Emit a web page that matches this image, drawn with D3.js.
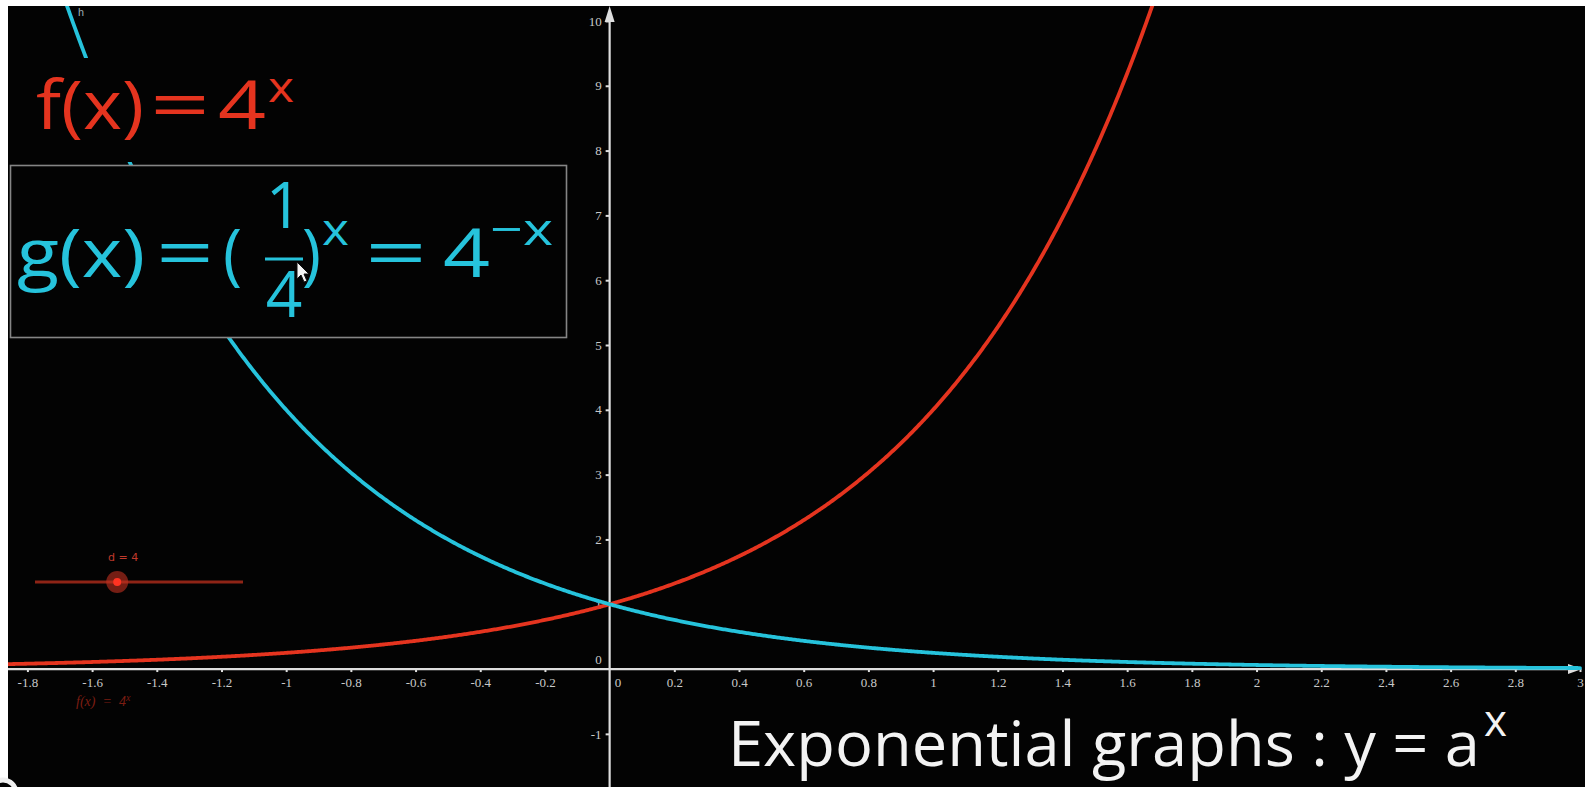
<!DOCTYPE html>
<html>
<head>
<meta charset="utf-8">
<script src="https://cdn.jsdelivr.net/npm/d3@7"></script>
<style>
  html, body { margin: 0; padding: 0; background: #fff; overflow: hidden; }
  svg { display: block; }
</style>
</head>
<body>
<svg id="chart" width="1585" height="787"></svg>
<script>
// Slider value d and the two exponential functions built from it
const sliderValue = 4;
const functionNames = ["f", "g"];
const functionBases = [sliderValue, 1 / sliderValue];   // f(x) = 4^x, g(x) = (1/4)^x

// Axis ticks
const xTickValues = [-1.8, -1.6, -1.4, -1.2, -1, -0.8, -0.6, -0.4, -0.2, 0.2, 0.4, 0.6, 0.8, 1, 1.2, 1.4, 1.6, 1.8, 2, 2.2, 2.4, 2.6, 2.8, 3];
const xTickLabels = ["-1.8", "-1.6", "-1.4", "-1.2", "-1", "-0.8", "-0.6", "-0.4", "-0.2", "0.2", "0.4", "0.6", "0.8", "1", "1.2", "1.4", "1.6", "1.8", "2", "2.2", "2.4", "2.6", "2.8", "3"];
const yTickValues = [-1, 1, 2, 3, 4, 5, 6, 7, 8, 9, 10];
const yTickLabels = ["-1", "1", "2", "3", "4", "5", "6", "7", "8", "9", "10"];

// Visible window of the graphing view
const xDomain = [-1.86, 3.0];
const yDomain = [-1.82, 10.2];
const sliderRange = [0, 10];

const W = 1585, H = 787;
const viewLeft = 8, viewTop = 6;
const RED = "#e5341f", CYAN = "#26c3dc";
const curveColors = { f: RED, g: CYAN };

const svg = d3.select("#chart");
svg.append("rect").attr("width", W).attr("height", H).attr("fill", "#ffffff");
svg.append("rect").attr("x", viewLeft).attr("y", viewTop)
  .attr("width", W - viewLeft).attr("height", H - viewTop).attr("fill", "#030303");

const x = d3.scaleLinear().domain(xDomain).range([viewLeft, 1580]);
const y = d3.scaleLinear().domain(yDomain).range([H, 8]);

svg.append("defs").append("clipPath").attr("id", "view")
  .append("rect").attr("x", viewLeft).attr("y", viewTop)
  .attr("width", W - viewLeft).attr("height", H - viewTop);

// ---- Axes ----
const axisColor = "#dedede";
const tickFont = "'Liberation Serif', 'DejaVu Serif', serif";

const xAxis = svg.append("g").attr("transform", `translate(0,${y(0)})`)
  .call(d3.axisBottom(x).tickValues(xTickValues)
    .tickFormat((d, i) => xTickLabels[i]).tickSize(3).tickPadding(6).tickSizeOuter(0));
xAxis.select(".domain").remove();
xAxis.selectAll(".tick line").attr("stroke", axisColor).attr("stroke-width", 2);
xAxis.selectAll(".tick text").attr("fill", "#c9c9c9")
  .attr("font-family", tickFont).attr("font-size", 13);

const yAxis = svg.append("g").attr("transform", `translate(${x(0)},0)`)
  .call(d3.axisLeft(y).tickValues(yTickValues)
    .tickFormat((d, i) => yTickLabels[i]).tickSize(4).tickPadding(4).tickSizeOuter(0));
yAxis.select(".domain").remove();
yAxis.selectAll(".tick line").attr("stroke", axisColor).attr("stroke-width", 2);
yAxis.selectAll(".tick text").attr("fill", "#c9c9c9")
  .attr("font-family", tickFont).attr("font-size", 13);

// zero labels on both axes
svg.append("text").attr("x", x(0) + 5).attr("y", y(0) + 18)
  .attr("font-family", tickFont).attr("font-size", 13).attr("fill", "#c9c9c9").text("0");
svg.append("text").attr("x", x(0) - 8).attr("y", y(0) - 5).attr("text-anchor", "end")
  .attr("font-family", tickFont).attr("font-size", 13).attr("fill", "#c9c9c9").text("0");

// axis lines with arrowheads
svg.append("line").attr("x1", viewLeft).attr("x2", x(xDomain[1]) - 8)
  .attr("y1", y(0)).attr("y2", y(0)).attr("stroke", axisColor).attr("stroke-width", 2.2);
svg.append("path")
  .attr("d", `M${x(xDomain[1]) + 2},${y(0)} L${x(xDomain[1]) - 12},${y(0) - 5} L${x(xDomain[1]) - 12},${y(0) + 5} Z`)
  .attr("fill", axisColor);
svg.append("line").attr("x1", x(0)).attr("x2", x(0))
  .attr("y1", H).attr("y2", viewTop + 10).attr("stroke", axisColor).attr("stroke-width", 2.2);
svg.append("path")
  .attr("d", `M${x(0)},${viewTop} L${x(0) - 5},${viewTop + 16} L${x(0) + 5},${viewTop + 16} Z`)
  .attr("fill", axisColor);

// ---- Curves ----
const samples = d3.range(xDomain[0], xDomain[1] + 1e-9, 0.004);
const line = d3.line().x(d => x(d[0])).y(d => y(d[1]));
const curves = svg.append("g").attr("clip-path", "url(#view)");
[0, 1].forEach(i => {
  const pts = samples.map(t => [t, Math.pow(functionBases[i], t)]).filter(p => p[1] < 40);
  curves.append("path").datum(pts)
    .attr("d", line).attr("fill", "none")
    .attr("stroke", curveColors[functionNames[i]])
    .attr("stroke-width", 3.8).attr("stroke-linejoin", "round").attr("stroke-linecap", "round");
});

// label of the cyan curve near the top edge
svg.append("text").attr("x", 78).attr("y", 16).attr("font-family", "Roboto, sans-serif")
  .attr("font-size", 11).attr("fill", "#9aa7ad").text("h");

// ---- Formula texts ----
const mathFont = "'Open Sans', 'Noto Sans', sans-serif";
function fitText(str, x0, x1, baseline, size, color) {
  return svg.append("text").attr("x", x0).attr("y", baseline)
    .attr("font-family", mathFont).attr("font-size", size).attr("fill", color)
    .attr("textLength", x1 - x0).attr("lengthAdjust", "spacingAndGlyphs").text(str);
}
function centerText(str, cx, baseline, size, color) {
  return svg.append("text").attr("x", cx).attr("y", baseline).attr("text-anchor", "middle")
    .attr("font-family", mathFont).attr("font-size", size).attr("fill", color).text(str);
}

// f(x) = 4^x (on its own dark backdrop)
svg.append("rect").attr("x", 28).attr("y", 58).attr("width", 272).attr("height", 104).attr("fill", "#030303");
fitText("f(x)", 36, 144, 129, 68, RED);
fitText("=", 150, 210, 129, 68, RED);
fitText(String(sliderValue), 218, 266, 129, 68, RED);
fitText("x", 268, 294, 102, 42, RED);

// g(x) = (1/4)^x = 4^-x inside a framed box
svg.append("rect").attr("x", 10.5).attr("y", 165.5).attr("width", 556).attr("height", 172)
  .attr("fill", "#030303").attr("stroke", "#858585").attr("stroke-width", 1.6);
fitText("g(x)", 17, 145, 277, 68, CYAN);
fitText("=", 156, 214, 277, 68, CYAN);
fitText("(", 223, 242, 277, 68, CYAN);
centerText("1", 284, 228, 64, CYAN);
svg.append("line").attr("x1", 265).attr("x2", 303).attr("y1", 259).attr("y2", 259)
  .attr("stroke", CYAN).attr("stroke-width", 3);
centerText(String(sliderValue), 284, 317, 64, CYAN);
fitText(")", 302, 321, 277, 68, CYAN);
fitText("x", 322, 349, 245, 44, CYAN);
fitText("=", 365, 427, 277, 68, CYAN);
fitText(String(sliderValue), 443, 490, 277, 68, CYAN);
fitText("\u2212x", 490, 553, 245, 44, CYAN);

// mouse pointer resting on the fraction
svg.append("path")
  .attr("d", "M0,0 L0,17 L4,13 L7,20 L10,19 L7,12 L12,12 Z")
  .attr("transform", "translate(297,262)")
  .attr("fill", "#f4f4f4").attr("stroke", "#111").attr("stroke-width", 1);

// ---- Slider d ----
const sliderScale = d3.scaleLinear().domain(sliderRange).range([35, 243]);
svg.append("line").attr("x1", sliderScale.range()[0]).attr("x2", sliderScale.range()[1])
  .attr("y1", 582).attr("y2", 582).attr("stroke", "#8e2416").attr("stroke-width", 3.2);
const knobX = sliderScale(sliderValue) - 1;
svg.append("circle").attr("cx", knobX).attr("cy", 582).attr("r", 11)
  .attr("fill", "#c2301f").attr("fill-opacity", 0.6);
svg.append("circle").attr("cx", knobX).attr("cy", 582).attr("r", 4).attr("fill", "#ff3322");
svg.append("text").attr("x", knobX + 6).attr("y", 561).attr("text-anchor", "middle")
  .attr("font-family", "'DejaVu Sans', sans-serif").attr("font-size", 11)
  .attr("fill", "#c0392b").text(`d = ${sliderValue}`);

// algebra label of f below the x axis
const fLabel = svg.append("text").attr("x", 76).attr("y", 706)
  .attr("font-family", tickFont).attr("font-style", "italic").attr("font-size", 14)
  .attr("fill", "#7c1d12").attr("xml:space", "preserve");
fLabel.append("tspan").text(`f(x)  =  ${sliderValue}`);
fLabel.append("tspan").attr("dy", -5).attr("font-size", 10).text("x");

// ---- Title ----
fitText("Exponential graphs : y = a", 728, 1480, 766, 62, "#f3f3f3");
fitText("x", 1484, 1507, 736, 44, "#f3f3f3");

// corner mark at the bottom-left of the view
svg.append("circle").attr("cx", 3).attr("cy", 793).attr("r", 13)
  .attr("fill", "#030303").attr("stroke", "#f0f0f0").attr("stroke-width", 5);
</script>
</body>
</html>
